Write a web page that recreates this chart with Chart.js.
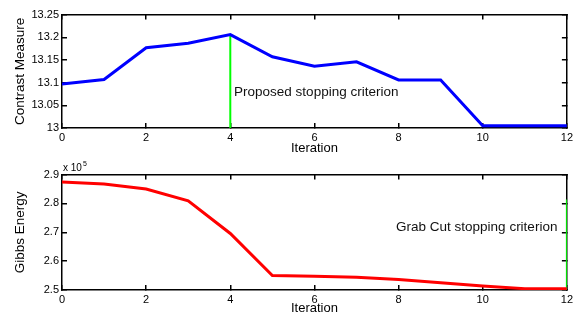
<!DOCTYPE html>
<html>
<head>
<meta charset="utf-8">
<script src="https://cdn.jsdelivr.net/npm/chart.js@4/dist/chart.umd.min.js"></script>
<style>
  body { margin: 0; background: #fff; }
  canvas { display: block; }
</style>
</head>
<body>
<canvas id="contrast-chart" width="581" height="160"></canvas>
<canvas id="gibbs-chart" width="581" height="160"></canvas>
<script>
const iterations = [0, 1, 2, 3, 4, 5, 6, 7, 8, 9, 10, 11, 12]
const contrastMeasure = [13.097, 13.107, 13.177, 13.187, 13.206, 13.157, 13.136, 13.146, 13.106, 13.106, 13.005, 13.005, 13.005]
// Gibbs energy, raw values (axis shows them in units of 10^5)
const gibbsEnergy = [287400, 286700, 285000, 280900, 269600, 255000, 254800, 254400, 253600, 252500, 251400, 250450, 250400]

const iterationTicks = [0, 2, 4, 6, 8, 10, 12]
const contrastTicks = [13, 13.05, 13.1, 13.15, 13.2, 13.25]
const gibbsTicks = [250000, 260000, 270000, 280000, 290000]

// stopping criteria markers (vertical green lines)
const proposedStop = { x: 4, y: [13, 13.206] }
const grabCutStop = { x: 12, y: [250000, 281400] }

const toPoints = (xs, ys) => xs.map((x, i) => ({ x: x, y: ys[i] }))

Chart.defaults.font.family = '"Liberation Sans", Arial, sans-serif'
Chart.defaults.color = '#000'

// text notes and the x 10^5 multiplier
const notes = {
  id: 'notes',
  afterDraw(chart, args, opts) {
    const { ctx, chartArea: a, scales } = chart
    ctx.save()
    if (opts.note) {
      ctx.fillStyle = '#111'
      ctx.font = '13.5px "Liberation Sans", Arial, sans-serif'
      ctx.textBaseline = 'middle'
      ctx.textAlign = 'left'
      ctx.fillText(opts.note.text, scales.x.getPixelForValue(opts.note.x), scales.y.getPixelForValue(opts.note.y))
    }
    if (opts.exponent) {
      ctx.fillStyle = '#000'
      ctx.textBaseline = 'alphabetic'
      ctx.textAlign = 'left'
      ctx.font = '10px "Liberation Sans", Arial, sans-serif'
      ctx.fillText('x 10', a.left + 1, a.top - 4)
      const w = ctx.measureText('x 10').width
      ctx.font = '7px "Liberation Sans", Arial, sans-serif'
      ctx.fillText(opts.exponent, a.left + 2 + w, a.top - 9)
    }
    ctx.restore()
  },
}

// inward tick marks and a closed box, MATLAB style
const axisGrid = { display: true, drawOnChartArea: false, drawTicks: true, tickLength: -5, color: '#000', lineWidth: 1.5 }
const axisBorder = { display: true, color: '#000', width: 1.5 }

const makeChart = (canvas, cfg) => {
  const yTickList = (s) => { s.ticks = cfg.ticks.map((v) => ({ value: v })) }
  const xTickList = (s) => { s.ticks = iterationTicks.map((v) => ({ value: v })) }
  return new Chart(canvas, {
    type: 'line',
    data: {
      datasets: [
        {
          data: toPoints(iterations, cfg.values),
          borderColor: cfg.color,
          borderWidth: 3,
          pointRadius: 0,
        },
        {
          data: [{ x: cfg.stop.x, y: cfg.stop.y[0] }, { x: cfg.stop.x, y: cfg.stop.y[1] }],
          borderColor: '#00ff00',
          borderWidth: 2,
          pointRadius: 0,
        },
      ],
    },
    options: {
      responsive: false,
      animation: false,
      devicePixelRatio: 1,
      layout: { padding: { left: 8, right: 14, top: cfg.top, bottom: 0 } },
      plugins: {
        legend: { display: false },
        tooltip: { enabled: false },
        notes: { note: cfg.note, exponent: cfg.exponent },
      },
      scales: {
        x: {
          type: 'linear',
          position: 'bottom',
          min: 0,
          max: 12,
          grid: axisGrid,
          border: axisBorder,
          afterBuildTicks: xTickList,
          ticks: { padding: 8, font: { size: 11 } },
          title: { display: true, text: 'Iteration', font: { size: 13 }, padding: { top: 0, bottom: 4 } },
          afterFit: (s) => { s.height = cfg.xHeight },
        },
        xTop: {
          type: 'linear',
          position: 'top',
          min: 0,
          max: 12,
          grid: axisGrid,
          border: axisBorder,
          afterBuildTicks: xTickList,
          ticks: { display: false },
          afterFit: (s) => { s.height = 0 },
        },
        y: {
          type: 'linear',
          position: 'left',
          min: cfg.min,
          max: cfg.max,
          grid: axisGrid,
          border: axisBorder,
          afterBuildTicks: yTickList,
          ticks: { padding: 8, font: { size: 11 }, callback: cfg.format },
          title: { display: true, text: cfg.title, font: { size: 13.5 }, padding: { top: 4, bottom: 0 } },
          afterFit: (s) => { s.width = 54 },
        },
        yRight: {
          type: 'linear',
          position: 'right',
          min: cfg.min,
          max: cfg.max,
          grid: axisGrid,
          border: axisBorder,
          afterBuildTicks: yTickList,
          ticks: { display: false },
          afterFit: (s) => { s.width = 0 },
        },
      },
    },
    plugins: [notes],
  })
}

makeChart(document.querySelector('#contrast-chart'), {
  values: contrastMeasure,
  color: '#0000ff',
  stop: proposedStop,
  min: 13,
  max: 13.25,
  ticks: contrastTicks,
  format: (v) => String(+v.toFixed(2)),
  title: 'Contrast Measure',
  note: { text: 'Proposed stopping criterion', x: 4.09, y: 13.079 },
  top: 12,
  xHeight: 32,
})

makeChart(document.querySelector('#gibbs-chart'), {
  values: gibbsEnergy,
  color: '#ff0000',
  stop: grabCutStop,
  min: 250000,
  max: 290000,
  ticks: gibbsTicks,
  format: (v) => String(+(v / 1e5).toFixed(1)),
  title: 'Gibbs Energy',
  note: { text: 'Grab Cut stopping criterion', x: 7.94, y: 271600 },
  exponent: '5',
  top: 14,
  xHeight: 30,
})
</script>
</body>
</html>
